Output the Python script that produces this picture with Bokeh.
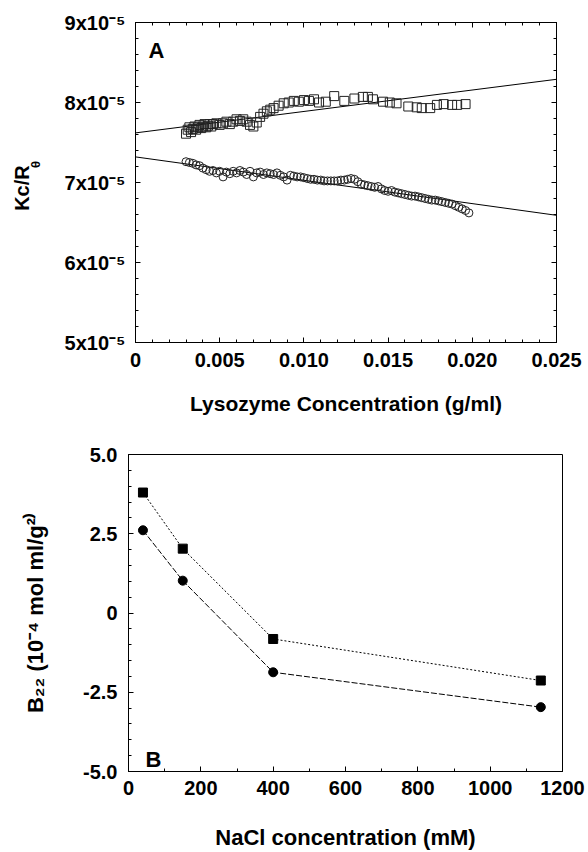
import numpy as np
from bokeh.plotting import figure
from bokeh.models import FixedTicker, LinearAxis, Range1d, Label
from bokeh.embed import file_html
from bokeh.resources import INLINE

FONT = "Liberation Sans"
NB = "\u00a0"

# ---------------- Panel A data (Kc/R_theta in units of 1e-5) ----------------
sq_conc = [0.0030, 0.0031, 0.0032, 0.0033, 0.0034, 0.0035, 0.0036, 0.0037, 0.0038, 0.0039,
           0.0040, 0.0041, 0.0042, 0.0043, 0.0044, 0.0045, 0.0046, 0.0048, 0.0050, 0.0052,
           0.0054, 0.0056, 0.0058, 0.0060, 0.0062, 0.0064, 0.0066, 0.0068, 0.0070, 0.0072,
           0.0074, 0.0076, 0.0078, 0.0080, 0.0082, 0.0085, 0.0088, 0.0091, 0.0094, 0.0097,
           0.0100, 0.0103, 0.0106, 0.0109, 0.0113, 0.0118, 0.0124, 0.0130, 0.0135, 0.0138,
           0.0141, 0.0147, 0.0151, 0.0155, 0.0162, 0.0167, 0.0170, 0.0175, 0.0179, 0.0183,
           0.0188, 0.0191, 0.0196]
sq_kcr = [7.61, 7.66, 7.69, 7.63, 7.67, 7.70, 7.66, 7.69, 7.72, 7.68,
          7.70, 7.73, 7.69, 7.71, 7.73, 7.70, 7.73, 7.74, 7.72, 7.74,
          7.76, 7.73, 7.76, 7.79, 7.77, 7.79, 7.76, 7.72, 7.70, 7.75,
          7.82, 7.86, 7.89, 7.91, 7.93, 7.96, 7.99, 8.00, 8.02, 8.01,
          8.03, 8.02, 8.04, 8.00, 8.01, 8.08, 8.02, 8.05, 8.07, 8.07,
          8.04, 8.01, 8.00, 7.99, 7.95, 7.94, 7.93, 7.93, 7.97, 7.98,
          7.97, 7.97, 7.98]

ci_conc = [0.0030, 0.0032, 0.0034, 0.0036, 0.0038, 0.0040, 0.0042, 0.0044, 0.0046, 0.0048,
           0.0050, 0.0052, 0.0054, 0.0056, 0.0058, 0.0060, 0.0062, 0.0064, 0.0066, 0.0068,
           0.0070, 0.0072, 0.0074, 0.0076, 0.0078, 0.0080, 0.0082, 0.0084, 0.0086, 0.0088,
           0.0090, 0.0092, 0.0094, 0.0096, 0.0098, 0.0100, 0.0102, 0.0104, 0.0106, 0.0108,
           0.0110, 0.0112, 0.0114, 0.0116, 0.0118, 0.0120, 0.0122, 0.0124, 0.0126, 0.0128,
           0.0130, 0.0132, 0.0134, 0.0136, 0.0138, 0.0140, 0.0142, 0.0144, 0.0146, 0.0148,
           0.0150, 0.0152, 0.0154, 0.0156, 0.0158, 0.0160, 0.0162, 0.0164, 0.0166, 0.0168,
           0.0170, 0.0172, 0.0174, 0.0176, 0.0178, 0.0180, 0.0182, 0.0184, 0.0186, 0.0188,
           0.0190, 0.0192, 0.0194, 0.0196, 0.0198]
ci_kcr = [7.26, 7.25, 7.24, 7.22, 7.21, 7.18, 7.16, 7.14, 7.15, 7.12,
          7.14, 7.07, 7.13, 7.11, 7.14, 7.12, 7.15, 7.13, 7.10, 7.14,
          7.07, 7.12, 7.13, 7.10, 7.12, 7.11, 7.10, 7.12, 7.09, 7.07,
          7.03, 7.09, 7.08, 7.07, 7.07, 7.06, 7.05, 7.04, 7.04, 7.03,
          7.03, 7.02, 7.02, 7.02, 7.02, 7.02, 7.03, 7.03, 7.04, 7.05,
          7.04, 7.01, 6.98, 6.97, 6.96, 6.95, 6.94, 6.95, 6.92, 6.90,
          6.89, 6.90, 6.88, 6.87, 6.86, 6.85, 6.84, 6.83, 6.83, 6.82,
          6.81, 6.80, 6.79, 6.78, 6.78, 6.77, 6.76, 6.75, 6.74, 6.73,
          6.71, 6.69, 6.67, 6.65, 6.62]

fit_conc = [0.0, 0.025]
fit_sq_kcr = [7.62, 8.29]
fit_ci_kcr = [7.32, 6.59]

a_xticks = [0.0, 0.005, 0.010, 0.015, 0.020, 0.025]
a_xlabels = ["0", "0.005", "0.010", "0.015", "0.020", "0.025"]
a_yticks = [5, 6, 7, 8, 9]
a_ylabels = ["5x10\u207b\u2075", "6x10\u207b\u2075", "7x10\u207b\u2075", "8x10\u207b\u2075", "9x10\u207b\u2075"]

# ---------------- Panel B data ----------------
nacl_mM = [40, 150, 400, 1140]
b22_sq = [3.80, 2.03, -0.82, -2.13]
b22_ci = [2.61, 1.02, -1.87, -2.97]

b_xticks = [0, 200, 400, 600, 800, 1000, 1200]
b_xlabels = ["0", "200", "400", "600", "800", "1000", "1200"]
b_yticks = [-5.0, -2.5, 0.0, 2.5, 5.0]
b_ylabels = ["-5.0", "-2.5", "0", "2.5", "5.0"]


def style_axis(ax, standoff=10, title_size="21px"):
    ax.axis_line_color = "black"
    ax.axis_line_width = 1
    ax.major_tick_in = 5
    ax.major_tick_out = 0
    ax.minor_tick_in = 3
    ax.minor_tick_out = 0
    ax.major_tick_line_color = "black"
    ax.minor_tick_line_color = "black"
    ax.major_label_text_font = FONT
    ax.major_label_text_font_style = "bold"
    ax.major_label_text_font_size = "20px"
    ax.major_label_text_color = "black"
    ax.major_label_standoff = standoff
    ax.axis_label_text_font = FONT
    ax.axis_label_text_font_style = "bold"
    ax.axis_label_text_font_size = title_size
    ax.axis_label_text_color = "black"


def mirror_axis(ticks, minor):
    ax = LinearAxis(ticker=FixedTicker(ticks=ticks, minor_ticks=minor))
    ax.axis_line_color = "black"
    ax.major_tick_in = 5
    ax.major_tick_out = 0
    ax.minor_tick_in = 3
    ax.minor_tick_out = 0
    ax.major_label_overrides = {t: "" for t in ticks}
    ax.major_label_standoff = 0
    return ax


# ---------------- Figure A ----------------
pA = figure(width=588, height=430, x_range=Range1d(0, 0.025), y_range=Range1d(5, 9),
            output_backend="svg", toolbar_location=None,
            min_border_left=135, min_border_right=32, min_border_top=22, min_border_bottom=88)
pA.grid.grid_line_color = None
pA.outline_line_color = "black"
pA.background_fill_color = "white"
pA.border_fill_color = "white"

a_xminor = [round(i * 0.001, 4) for i in range(26)]
a_yminor = [round(5 + 0.2 * i, 2) for i in range(21)]
pA.xaxis.ticker = FixedTicker(ticks=a_xticks, minor_ticks=a_xminor)
pA.yaxis.ticker = FixedTicker(ticks=a_yticks, minor_ticks=a_yminor)
pA.xaxis.major_label_overrides = dict(zip(a_xticks, a_xlabels))
pA.yaxis.major_label_overrides = dict(zip(a_yticks, a_ylabels))
style_axis(pA.xaxis[0], 10)
style_axis(pA.yaxis[0], 10, "13px")
pA.xaxis.axis_label = "Lysozyme Concentration (g/ml)"
pA.xaxis.axis_label_standoff = 22
# subscript theta of Kc/R_theta (inner label), shifted up with no-break spaces
pA.yaxis.axis_label = NB * 10 + "\u03b8"
pA.yaxis.axis_label_standoff = 19

# outer, tickless axis carrying the main part of the title
outer = LinearAxis(ticker=FixedTicker(ticks=a_yticks))
outer.axis_line_color = None
outer.major_tick_line_color = None
outer.minor_tick_line_color = None
outer.major_label_overrides = {t: "" for t in a_yticks}
outer.major_label_standoff = 0
outer.axis_label = "Kc/R" + NB * 2
outer.axis_label_text_font = FONT
outer.axis_label_text_font_style = "bold"
outer.axis_label_text_font_size = "20px"
outer.axis_label_text_color = "black"
outer.axis_label_standoff = -14
pA.add_layout(outer, "left")

pA.add_layout(mirror_axis(a_xticks, a_xminor), "above")
pA.add_layout(mirror_axis(a_yticks, a_yminor), "right")

pA.line(fit_conc, fit_sq_kcr, line_color="black", line_width=1)
pA.line(fit_conc, fit_ci_kcr, line_color="black", line_width=1)
pA.scatter(sq_conc, sq_kcr, marker="square", size=9, fill_color=None,
           line_color="#222222", line_width=1)
pA.scatter(ci_conc, ci_kcr, marker="circle", size=8, fill_color=None,
           line_color="#222222", line_width=1)

pA.add_layout(Label(x=0, y=9, x_offset=13, y_offset=-15, text="A", text_font=FONT,
                    text_font_style="bold", text_font_size="22px", text_baseline="top",
                    text_align="left", text_color="black"))

# ---------------- Figure B ----------------
pB = figure(width=588, height=422, x_range=Range1d(0, 1200), y_range=Range1d(-5, 5),
            output_backend="svg", toolbar_location=None,
            min_border_left=128, min_border_right=26, min_border_top=24, min_border_bottom=80)
pB.grid.grid_line_color = None
pB.outline_line_color = "black"
pB.background_fill_color = "white"
pB.border_fill_color = "white"

b_xminor = [100 * i for i in range(13)]
b_yminor = [round(-5 + 0.5 * i, 2) for i in range(21)]
pB.xaxis.ticker = FixedTicker(ticks=b_xticks, minor_ticks=b_xminor)
pB.yaxis.ticker = FixedTicker(ticks=b_yticks, minor_ticks=b_yminor)
pB.xaxis.major_label_overrides = dict(zip(b_xticks, b_xlabels))
pB.yaxis.major_label_overrides = dict(zip(b_yticks, b_ylabels))
style_axis(pB.xaxis[0], 9, "22px")
style_axis(pB.yaxis[0], 11, "22px")
pB.xaxis.axis_label = "NaCl concentration (mM)"
pB.xaxis.axis_label_standoff = 27
pB.yaxis.axis_label = "B\u2082\u2082 (10\u207b\u2074 mol ml/g\u00b2\u207e"
pB.yaxis.axis_label_standoff = 32

pB.line(nacl_mM, b22_sq, line_color="black", line_width=1, line_dash="2 2")
pB.line(nacl_mM, b22_ci, line_color="black", line_width=1, line_dash="6 2")
pB.scatter(nacl_mM, b22_sq, marker="square", size=9, fill_color="black", line_color="black")
pB.scatter(nacl_mM, b22_ci, marker="circle", size=9, fill_color="black", line_color="black")

pB.add_layout(Label(x=0, y=-5, x_offset=17, y_offset=12, text="B", text_font=FONT,
                    text_font_style="bold", text_font_size="22px", text_baseline="alphabetic",
                    text_align="left", text_color="black"))

# two independent roots, stacked vertically (no frame alignment between panels)
open("out.html", "w").write(file_html([pA, pB], INLINE))
